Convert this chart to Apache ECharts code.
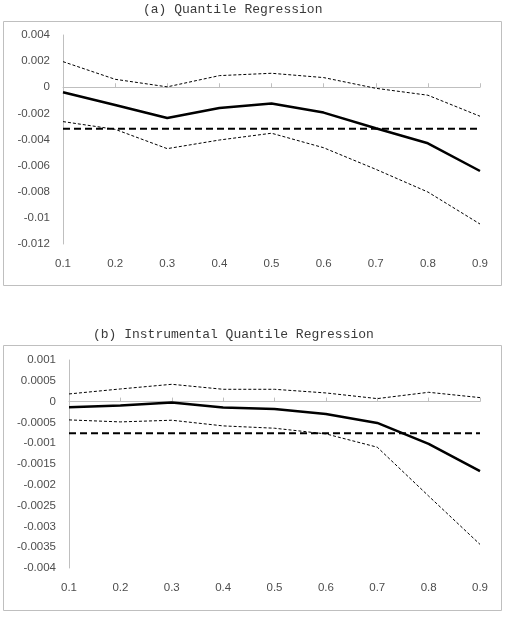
<!DOCTYPE html>
<html>
<head>
<meta charset="utf-8">
<script src="https://cdn.jsdelivr.net/npm/echarts@6/dist/echarts.min.js"></script>
<style>
  html, body { margin: 0; padding: 0; background: #fff; }
  #chart { width: 507px; height: 627px; }
</style>
</head>
<body>
<div id="chart"></div>
<script>
// quantiles
var quantiles = ['0.1', '0.2', '0.3', '0.4', '0.5', '0.6', '0.7', '0.8', '0.9'];

// (a) Quantile Regression
var qrCoef  = [-0.00038, -0.00136, -0.00235, -0.00159, -0.00125, -0.00194, -0.00314, -0.00429, -0.00641];
var qrUpper = [0.00196, 0.00061, 0.00003, 0.00089, 0.00107, 0.00074, -0.00008, -0.00061, -0.00222];
var qrLower = [-0.00263, -0.00322, -0.0047, -0.00404, -0.00352, -0.00463, -0.00628, -0.00802, -0.01047];
var qrOls   = [-0.00317, -0.00317, -0.00317, -0.00317, -0.00317, -0.00317, -0.00317, -0.00317, -0.00317];

// (b) Instrumental Quantile Regression
var iqrCoef  = [-0.000136, -0.000096, -0.000024, -0.000144, -0.000176, -0.000296, -0.000512, -0.001016, -0.00167];
var iqrUpper = [0.000184, 0.000304, 0.000416, 0.000296, 0.000296, 0.000208, 0.000072, 0.000224, 0.000096];
var iqrLower = [-0.00044, -0.000488, -0.000448, -0.000584, -0.00064, -0.000776, -0.001096, -0.00227, -0.003432];
var iqrIv    = [-0.00076, -0.00076, -0.00076, -0.00076, -0.00076, -0.00076, -0.00076, -0.00076, -0.00076];

var gray = '#bfbfbf';
var labelColor = '#4d4d4d';

function labelAxis(grid) {
    return {
        type: 'category', gridIndex: grid, data: quantiles, boundaryGap: false,
        axisLine: { show: false, onZero: false },
        axisTick: { show: false },
        axisLabel: { color: labelColor, fontSize: 11.5, margin: 14, fontFamily: 'Liberation Sans' }
    };
}
function zeroAxis(grid) {
    return {
        type: 'category', gridIndex: grid, data: quantiles, boundaryGap: false, position: 'top',
        axisLine: { show: true, onZero: true, lineStyle: { color: gray, width: 1 } },
        axisTick: { show: true, length: 4, lineStyle: { color: gray } },
        axisLabel: { show: false }
    };
}
function valAxis(grid, min, max, step, margin) {
    return {
        type: 'value', gridIndex: grid, min: min, max: max, interval: step,
        axisLine: { show: true, lineStyle: { color: gray, width: 1 } },
        axisTick: { show: false },
        splitLine: { show: false },
        axisLabel: { color: labelColor, fontSize: 11.5, margin: margin, fontFamily: 'Liberation Sans' }
    };
}
function line(name, data, idx, style) {
    return {
        name: name, type: 'line', data: data, xAxisIndex: idx * 2, yAxisIndex: idx,
        symbol: 'none', silent: true, lineStyle: style
    };
}

var solid = { color: '#000', width: 2.5 };
var thin = { color: '#000', width: 1, type: [3, 2] };
var thick = { color: '#000', width: 2, type: [7, 4] };

var titleStyle = { fontFamily: 'Liberation Mono', fontSize: 13, fontWeight: 'normal', color: '#3a3a3a' };

var myChart = echarts.init(document.getElementById('chart'));
var option = {
    backgroundColor: '#fff',
    animation: false,
    title: [
        { text: '(a) Quantile Regression', left: 143, top: 3, padding: 0, textStyle: titleStyle },
        { text: '(b) Instrumental Quantile Regression', left: 93, top: 328, padding: 0, textStyle: titleStyle }
    ],
    graphic: [
        { type: 'rect', shape: { x: 3.5, y: 21.5, width: 498, height: 264 }, style: { fill: null, stroke: gray, lineWidth: 1 }, silent: true },
        { type: 'rect', shape: { x: 3.5, y: 345.5, width: 498, height: 265 }, style: { fill: null, stroke: gray, lineWidth: 1 }, silent: true }
    ],
    grid: [
        { left: 63, top: 35, width: 417, height: 209 },
        { left: 69, top: 360, width: 411, height: 208 }
    ],
    xAxis: [labelAxis(0), zeroAxis(0), labelAxis(1), zeroAxis(1)],
    yAxis: [
        valAxis(0, -0.012, 0.004, 0.002, 13),
        valAxis(1, -0.004, 0.001, 0.0005, 13)
    ],
    series: [
        line('QR upper', qrUpper, 0, thin),
        line('QR lower', qrLower, 0, thin),
        line('OLS', qrOls, 0, thick),
        line('QR', qrCoef, 0, solid),
        line('IQR upper', iqrUpper, 1, thin),
        line('IQR lower', iqrLower, 1, thin),
        line('IV', iqrIv, 1, thick),
        line('IQR', iqrCoef, 1, solid)
    ]
};
myChart.setOption(option);
</script>
</body>
</html>
